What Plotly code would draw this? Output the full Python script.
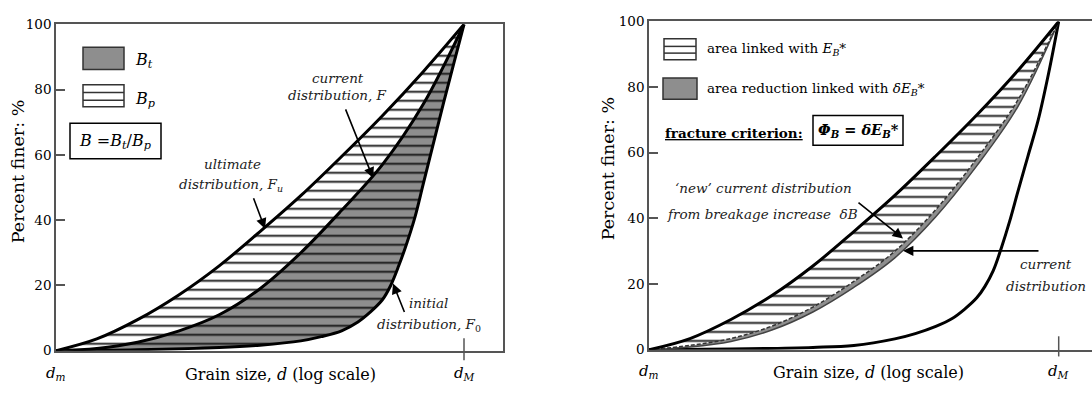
import plotly.graph_objects as go

W, H = 1092, 399

# ---------------- data (x: 0 = d_m, 1 = d_M on log scale; y: percent finer) -------------
u_main = [0, 0.1, 0.2, 0.3, 0.4, 0.5, 0.6, 0.7, 0.8, 0.9, 1.0]
left_ultimate = [0, 3.6, 9.5, 17, 26, 36.5, 47.5, 59.5, 72, 85.5, 100]
left_current = [0, 0.7, 2.6, 6, 11, 19, 30, 43, 57, 75.5, 100]
u_initial = [0, 0.2, 0.4, 0.5, 0.6, 0.65, 0.7, 0.74, 0.77, 0.8, 0.82, 0.84, 0.86,
             0.88, 0.9, 0.925, 0.95, 0.975, 1.0]
left_initial = [0, 0.3, 1, 1.7, 3.0, 4.3, 6.1, 8.8, 11.8, 15.6, 19.9, 26, 33,
                41, 51, 63.5, 76, 88, 100]

right_ultimate = [0, 3.4, 9.2, 16.5, 25.5, 36, 47, 59, 71.5, 85, 100]
right_current = [0, 0.8, 2.5, 6, 11.5, 19, 28, 40.5, 56, 74, 100]
right_new_current = [0, 1.3, 3.4, 7.2, 13, 20.8, 30, 42.7, 58.2, 76, 100]
right_initial = [0, 0.2, 0.7, 1.3, 3.3, 4.9, 7.1, 9.5, 12.3, 15.8, 19.3, 24, 31,
                 39, 48, 59, 70, 84, 100]

y_ticks = [0, 20, 40, 60, 80, 100]
y_tick_text = ["0", "20", "40", "60", "80", "100"]

# ---------------- helpers ----------------
SERIF = "DejaVu Serif"
AX = "#555555"
GRAY = "#8e8e8e"


def px(x):
    return x / W


def py(y):
    return 1 - y / H


def curve(x, y, xa, ya, **kw):
    line = kw.pop("line", dict(color="black", width=3))
    line.setdefault("shape", "spline")
    line.setdefault("smoothing", 1.0)
    return go.Scatter(x=x, y=y, mode="lines", line=line, xaxis=xa, yaxis=ya,
                      hoverinfo="skip", showlegend=False, **kw)


def hatch(bg):
    return dict(shape="-", fgcolor="#111111", fgopacity=1, bgcolor=bg, size=9,
                solidity=0.2)


fig = go.Figure()

fig.add_trace(curve(u_initial, left_initial, "x", "y"))
fig.add_trace(curve(u_main, left_current, "x", "y", fill="tonexty",
                    fillcolor=GRAY, fillpattern=hatch(GRAY)))
fig.add_trace(curve(u_main, left_ultimate, "x", "y", fill="tonexty",
                    fillcolor="white", fillpattern=hatch("white")))

fig.add_trace(curve(u_initial, right_initial, "x2", "y2"))
fig.add_trace(curve(u_main, right_current, "x2", "y2",
                    line=dict(color="#444444", width=1.5)))
fig.add_trace(curve(u_main, right_new_current, "x2", "y2", fill="tonexty",
                    fillcolor=GRAY,
                    line=dict(color="#333333", width=1.5, dash="4px,2px")))
fig.add_trace(curve(u_main, right_ultimate, "x2", "y2", fill="tonexty",
                    fillcolor="white", fillpattern=hatch("white")))

yax = dict(range=[0, 100], tickvals=y_ticks, ticktext=y_tick_text, ticks="inside",
           ticklen=9, tickwidth=1.5, tickcolor=AX, showline=True, linecolor=AX,
           linewidth=1.5, showgrid=False, zeroline=False,
           tickfont=dict(family=SERIF, size=13.5, color="black"), fixedrange=True)
xax = dict(showline=True, mirror=True, linecolor=AX, linewidth=1.5, showgrid=False,
           zeroline=False, showticklabels=False, ticks="", fixedrange=True)

fig.update_layout(
    width=W, height=H, margin=dict(l=0, r=0, t=0, b=0),
    paper_bgcolor="white", plot_bgcolor="white", showlegend=False,
    font=dict(family=SERIF),
    xaxis=dict(xax, domain=[px(56), px(503)], range=[0, 447 / 408], anchor="y"),
    yaxis=dict(yax, domain=[py(357), py(17)], mirror=True, anchor="x"),
    xaxis2=dict(xax, domain=[px(649), 1.0], range=[0, 443 / 409.7], anchor="y2"),
    yaxis2=dict(yax, domain=[py(356), py(14)], mirror=False, anchor="x2"),
)

ann = []
shapes = []


def text(x, y, s, size=13.5, color="#222222", xanchor="center", angle=0):
    ann.append(dict(x=px(x), y=py(y), xref="paper", yref="paper", text=s,
                    showarrow=False, xanchor=xanchor, yanchor="middle",
                    textangle=angle, font=dict(family=SERIF, size=size, color=color)))


def arrow(tx, ty, sx, sy):
    ann.append(dict(x=px(tx), y=py(ty), xref="paper", yref="paper", text="",
                    showarrow=True, ax=sx - tx, ay=sy - ty, arrowhead=2,
                    arrowsize=1.3, arrowwidth=1.6, arrowcolor="black"))


def rect(x0, y0, x1, y1, fill="white", width=1.5, color="#333333"):
    shapes.append(dict(type="rect", xref="paper", yref="paper", x0=px(x0), x1=px(x1),
                       y0=py(y1), y1=py(y0), fillcolor=fill,
                       line=dict(color=color, width=width), layer="above"))


def hline(x0, x1, y, color="#333333", width=1.5):
    shapes.append(dict(type="line", xref="paper", yref="paper", x0=px(x0), x1=px(x1),
                       y0=py(y), y1=py(y), line=dict(color=color, width=width),
                       layer="above"))


# axis titles
text(18, 170, "Percent finer: %", size=17.5, color="black", angle=-90)
text(608, 167, "Percent finer: %", size=17.5, color="black", angle=-90)
text(280, 382, "Grain size, <i>d</i> (log scale)", size=16, color="black")
text(868, 380, "Grain size, <i>d</i> (log scale)", size=16, color="black")

# d_m / d_M labels and tick marks at d_M
for xa, ya_lab, y0, y1 in [("x", 381, 344, 367), ("x2", 379, 342, 363)]:
    ann.append(dict(x=0, xref=xa, y=py(ya_lab), yref="paper",
                    text="<i>d<sub>m</sub></i>", showarrow=False, xanchor="center",
                    yanchor="middle", font=dict(family=SERIF, size=15, color="black")))
    ann.append(dict(x=1, xref=xa, y=py(ya_lab), yref="paper",
                    text="<i>d<sub>M</sub></i>", showarrow=False, xanchor="center",
                    yanchor="middle", font=dict(family=SERIF, size=15, color="black")))
    shapes.append(dict(type="line", xref=xa, yref="paper", x0=1, x1=1, y0=py(y1),
                       y1=py(y0), line=dict(color=AX, width=1.5)))

# left legend
rect(83, 41, 124, 64, fill=GRAY)
text(133, 55, "<i>B<sub>t</sub></i>", size=16, color="black", xanchor="left")
rect(83, 80, 124, 103)
hline(83, 124, 88)
hline(83, 124, 96)
text(133, 95, "<i>B<sub>p</sub></i>", size=16, color="black", xanchor="left")
rect(70, 120, 161, 157, color="black")
text(115, 139, "<i>B</i> =<i>B<sub>t</sub></i>/<i>B<sub>p</sub></i>", size=16, color="black")

# left labels
text(338, 73, "<i>current</i>")
text(337, 91, "<i>distribution, F</i>")
arrow(373, 177, 345, 107)
text(232, 162, "<i>ultimate</i>")
text(231, 184, "<i>distribution, F<sub>u</sub></i>")
arrow(265, 230, 253, 198)
text(428, 307, "<i>initial</i>")
text(429, 330, "<i>distribution, F</i><sub>0</sub>")
arrow(393, 287, 405, 317)

# right legend
rect(664, 32, 696, 54)
hline(664, 696, 40)
hline(664, 696, 47)
text(705, 43, "area linked with <i>E<sub>B</sub></i>*", color="black", xanchor="left")
rect(663, 73, 697, 95, fill=GRAY)
text(705, 84, "area reduction linked with <i>δE<sub>B</sub></i>*", color="black",
     xanchor="left")
text(663, 130, "<b><u>fracture criterion:</u></b>", size=13.5, color="black",
     xanchor="left")
rect(813, 112, 903, 143, color="black")
text(858, 128, "<b><i>Φ<sub>B</sub></i> = <i>δE<sub>B</sub></i>*</b>", size=14.5,
     color="black")

# right labels
text(763, 188, "<i>‘new’ current distribution</i>")
text(762, 215, "<i>from breakage increase  δB</i>")
arrow(903, 240, 857, 203)
arrow(903, 253, 1040, 253)
text(1046, 267, "<i>current</i>")
text(1046, 290, "<i>distribution</i>")

fig.update_layout(annotations=ann, shapes=shapes)
fig.write_html("out.html")
